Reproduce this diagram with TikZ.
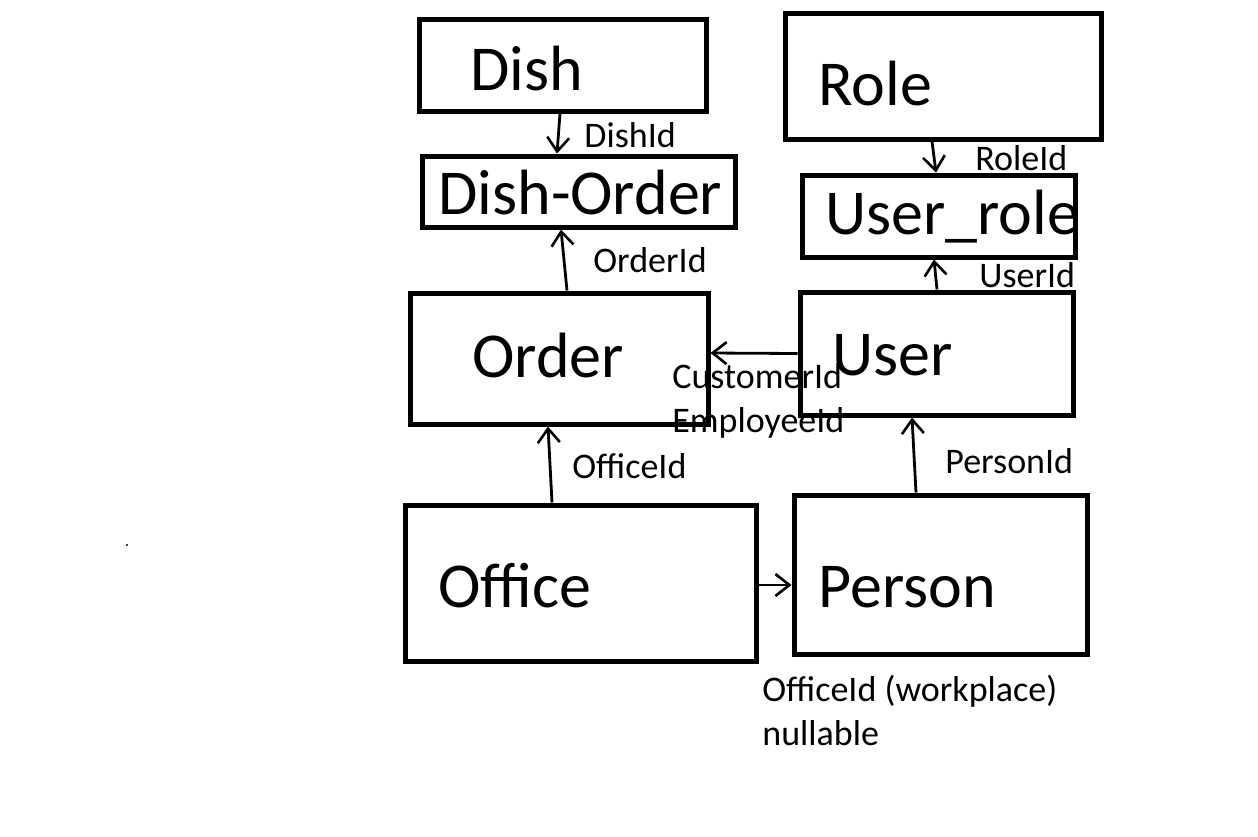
\documentclass[tikz,border=0pt]{standalone}
\usepackage{fontspec}
\setmainfont{Carlito}
\usetikzlibrary{arrows.meta}
\begin{document}
\begin{tikzpicture}[x=0.5pt,y=-0.5pt,
  box/.style={draw,line width=2.5pt,rectangle,inner sep=0pt},
  big/.style={anchor=base west,inner sep=0pt,font=\fontsize{32}{38}\selectfont},
  small/.style={anchor=base west,inner sep=0pt,font=\fontsize{18}{21}\selectfont},
  arr/.style={line width=1.4pt,-{Straight Barb[length=7pt,width=11pt,line width=1.3pt]}}]
\useasboundingbox (0,0) rectangle (1258,836);
% boxes
\node[box,minimum width=143.5pt,minimum height=46pt]   (dish)     at (562.5,65) {};
\node[box,minimum width=156.5pt,minimum height=35.5pt] (dishorder) at (578.5,191.5) {};
\node[box,minimum width=149pt,minimum height=65.5pt]   (order)    at (559,358.5) {};
\node[box,minimum width=158pt,minimum height=63pt]     (role)     at (943,76) {};
\node[box,minimum width=136.5pt,minimum height=41pt]   (userrole) at (938.5,216) {};
\node[box,minimum width=136.5pt,minimum height=61.5pt] (user)     at (936.5,353.5) {};
\node[box,minimum width=175.5pt,minimum height=78pt]   (office)   at (580.5,583) {};
\node[box,minimum width=146.5pt,minimum height=79.5pt] (person)   at (940.5,574.5) {};
% titles
\node[big] (tdish)   at (470,90)  {Dish};
\node[big] (tdo)     at (438,214) {Dish-Order};
\node[big] (torder)  at (472,377) {Order};
\node[big] (trole)   at (818,105) {Role};
\node[big] (tur)     at (825,234) {User\_role};
\node[big] (tuser)   at (832,375) {User};
\node[big] (toffice) at (438,607) {Office};
\node[big] (tperson) at (818,607) {Person};
% connectors
\draw[arr] ([xshift=-1.25pt]dish.south) -- ([xshift=-10.75pt]dishorder.north);
\draw[arr] ([xshift=4pt]order.north) -- ([xshift=-8.75pt]dishorder.south);
\draw[arr] ([xshift=-5.5pt]role.south) -- ([xshift=-1.25pt]userrole.north);
\draw[arr] ([xshift=0.25pt]user.north) -- ([xshift=-2.25pt]userrole.south);
\draw[arr] (user.west) -- ([yshift=2.75pt]order.east);
\draw[arr] ([xshift=-14.25pt]office.north) -- ([xshift=-5.5pt]order.south);
\draw[arr] ([xshift=-12.25pt]person.north) -- ([xshift=-12.25pt]user.south);
\draw[arr] ([yshift=-1pt]office.east) -- ([yshift=-5.25pt]person.west);
% labels
\node[small] (ldish)   at (584,147) {DishId};
\node[small] (lorder)  at (593,272) {OrderId};
\node[small] (lrole)   at (975,170) {RoleId};
\node[small] (luser)   at (979,287) {UserId};
\node[small] (lcust)   at (672,388) {CustomerId};
\node[small] (lemp)    at (672,432) {EmployeeId};
\node[small] (loffice) at (572,478) {OfficeId};
\node[small] (lperson) at (945,473) {PersonId};
\node[small] (lwork)   at (762,701) {OfficeId (workplace)};
\node[small] (lnull)   at (762,745) {nullable};
% stray dot
\fill (127,545) circle (0.6pt);
\end{tikzpicture}
\end{document}
